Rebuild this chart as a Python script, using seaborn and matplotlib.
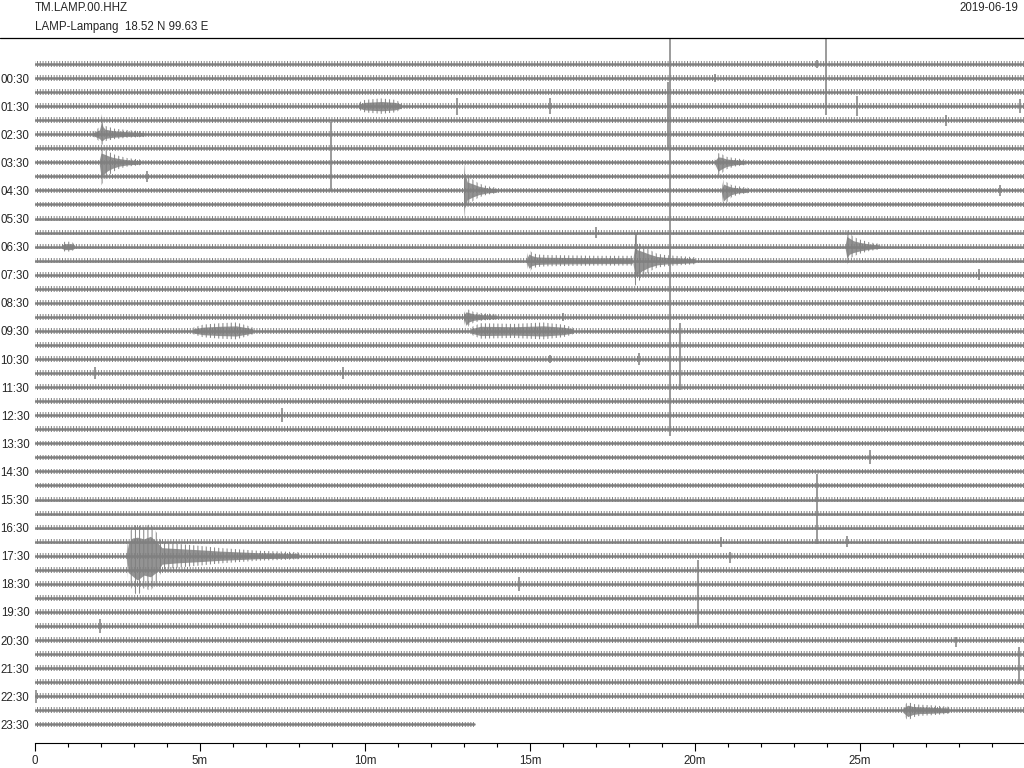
import numpy as np
import pandas as pd
import matplotlib
matplotlib.use("Agg")
import matplotlib.pyplot as plt
from matplotlib.lines import Line2D
import seaborn as sns

sns.set_style("white")
plt.rcParams["font.family"] = ["Liberation Sans", "DejaVu Sans"]
plt.rcParams["hatch.linewidth"] = 0.7
plt.rcParams["hatch.color"] = "#808080"

# header
station = "TM.LAMP.00.HHZ"
site = "LAMP-Lampang  18.52 N 99.63 E"
day = "2019-06-19"

# one trace per half hour, the last one stops early
n_traces = 48
last_trace_end = 13.3
hour_labels = ["00:30", "01:30", "02:30", "03:30", "04:30", "05:30", "06:30", "07:30",
               "08:30", "09:30", "10:30", "11:30", "12:30", "13:30", "14:30", "15:30",
               "16:30", "17:30", "18:30", "19:30", "20:30", "21:30", "22:30", "23:30"]
minute_ticks = [0, 5, 10, 15, 20, 25]
minute_labels = ["0", "5m", "10m", "15m", "20m", "25m"]

# wave trains: trace row, envelope times (min), reach above / below trace (trace spacings)
quake_rows = [5, 7, 9, 7, 9, 14, 14, 13, 18, 19, 19, 35, 46, 3, 13]
quake_times = [
    [1.75, 1.95, 2.02, 2.06, 2.12, 2.4, 2.8, 3.3],
    [1.95, 2.0, 2.08, 2.2, 2.35, 2.55, 2.8, 3.2],
    [12.98, 13.03, 13.1, 13.25, 13.45, 13.7, 14.0],
    [20.6, 20.7, 20.8, 20.95, 21.2, 21.5],
    [20.8, 20.87, 20.95, 21.1, 21.3, 21.6],
    [18.12, 18.18, 18.25, 18.4, 18.6, 18.85, 19.1, 19.4, 20.0],
    [14.9, 14.97, 15.05, 15.2, 15.5, 17.0, 18.1],
    [24.55, 24.6, 24.68, 24.8, 25.0, 25.3, 25.6],
    [13.0, 13.06, 13.15, 13.3, 13.6, 14.0],
    [4.8, 5.1, 5.6, 6.1, 6.4, 6.6],
    [13.2, 13.5, 14.5, 15.4, 16.0, 16.3],
    [2.78, 2.83, 2.95, 3.1, 3.3, 3.5, 3.7, 3.85, 4.3, 5.0, 5.6, 6.2, 6.8, 7.5, 8.0],
    [26.3, 26.45, 26.6, 26.8, 27.2, 27.7],
    [9.8, 10.0, 10.5, 10.9, 11.1],
    [0.8, 0.9, 1.1, 1.2],
]
quake_up = [
    [0.15, 0.5, 1.45, 0.9, 0.6, 0.4, 0.3, 0.2],
    [0.3, 1.1, 1.0, 0.8, 0.6, 0.45, 0.3, 0.2],
    [0.3, 2.0, 1.0, 0.8, 0.5, 0.3, 0.2],
    [0.2, 0.65, 0.6, 0.4, 0.3, 0.2],
    [0.2, 0.75, 0.6, 0.4, 0.3, 0.2],
    [0.3, 1.8, 1.3, 1.1, 0.8, 0.5, 0.4, 0.35, 0.25],
    [0.25, 0.8, 0.6, 0.45, 0.4, 0.35, 0.35],
    [0.2, 1.2, 1.0, 0.7, 0.5, 0.3, 0.2],
    [0.2, 0.6, 0.5, 0.35, 0.25, 0.2],
    [0.25, 0.45, 0.55, 0.6, 0.4, 0.25],
    [0.25, 0.55, 0.5, 0.6, 0.45, 0.25],
    [0.3, 1.5, 2.1, 2.2, 2.0, 2.3, 1.6, 0.95, 0.85, 0.7, 0.55, 0.45, 0.35, 0.3, 0.25],
    [0.25, 0.6, 0.45, 0.4, 0.35, 0.25],
    [0.25, 0.45, 0.55, 0.45, 0.25],
    [0.2, 0.35, 0.35, 0.2],
]
quake_down = [
    [0.15, 0.5, 0.8, 0.7, 0.5, 0.35, 0.25, 0.2],
    [0.3, 1.65, 1.4, 1.0, 0.7, 0.45, 0.3, 0.2],
    [0.3, 2.1, 1.1, 0.8, 0.5, 0.3, 0.2],
    [0.2, 1.05, 0.8, 0.5, 0.3, 0.2],
    [0.2, 1.25, 0.9, 0.5, 0.3, 0.2],
    [0.3, 1.8, 1.6, 1.2, 0.8, 0.5, 0.4, 0.35, 0.25],
    [0.25, 0.9, 0.6, 0.45, 0.4, 0.35, 0.35],
    [0.2, 1.3, 0.9, 0.7, 0.5, 0.3, 0.2],
    [0.2, 1.0, 0.6, 0.4, 0.25, 0.2],
    [0.25, 0.45, 0.55, 0.6, 0.4, 0.25],
    [0.25, 0.55, 0.5, 0.6, 0.45, 0.25],
    [0.3, 2.0, 2.4, 2.9, 2.3, 2.5, 1.9, 1.0, 0.85, 0.7, 0.55, 0.45, 0.35, 0.3, 0.25],
    [0.25, 0.75, 0.5, 0.4, 0.35, 0.25],
    [0.25, 0.45, 0.55, 0.45, 0.25],
    [0.2, 0.35, 0.35, 0.2],
]

# single spikes: trace row, minute, reach above / below trace (trace spacings)
spike_rows = [13, 5, 3, 6, 20, 34, 38, 43, 45, 34, 35, 34, 41, 28, 37, 40, 25, 22, 22,
              21, 21, 9, 4, 3, 3, 18, 13, 12, 15, 3, 3, 8, 1, 0]
spike_mins = [19.24, 19.17, 23.97, 8.97, 19.55, 23.7, 20.1, 29.82, 0.02, 20.8, 21.06, 24.6,
              27.9, 25.3, 14.67, 1.97, 7.48, 1.82, 9.33, 15.6, 18.3, 29.24, 27.6, 24.9,
              29.85, 16.0, 18.2, 17.0, 28.6, 12.8, 15.6, 3.4, 20.6, 23.7]
spike_up = [14.9, 3.7, 5.0, 1.85, 1.6, 4.85, 2.7, 1.5, 0.45, 0.35, 0.25, 0.4, 0.2, 0.5,
            0.5, 0.5, 0.5, 0.4, 0.4, 0.3, 0.4, 0.4, 0.4, 0.7, 0.5, 0.3, 1.0, 0.4, 0.4,
            0.6, 0.55, 0.4, 0.3, 0.3]
spike_down = [13.5, 1.0, 0.6, 3.0, 3.2, 0.2, 2.1, 1.1, 0.45, 0.4, 0.5, 0.4, 0.5, 0.5,
              0.5, 0.5, 0.5, 0.4, 0.4, 0.3, 0.4, 0.4, 0.4, 0.7, 0.5, 0.3, 0.5, 0.4, 0.4,
              0.6, 0.55, 0.4, 0.3, 0.3]

gray = "#808080"

fig = plt.figure(figsize=(10.24, 7.68), dpi=100)
ax = fig.add_axes([35 / 1024, 25 / 768, 990 / 1024, 705 / 768])

rows = np.arange(n_traces)
ends = np.where(rows == n_traces - 1, last_trace_end, 30.0)
traces = pd.DataFrame({
    "row": np.repeat(rows, 2),
    "minute": np.column_stack([np.zeros(n_traces), ends]).ravel(),
})
sns.lineplot(data=traces, x="minute", y="row", units="row", estimator=None,
             color=gray, lw=1.8, ax=ax, legend=False)

# background noise round every trace, drawn as fine vertical ticks
for k, end in zip(rows, ends):
    ax.fill_between([0, end], k - 0.2, k + 0.2, facecolor="none", edgecolor=gray,
                    hatch="||||||", lw=0)

# wave trains: solid core plus hatched swing
for r, t, up, dn in zip(quake_rows, quake_times, quake_up, quake_down):
    up = np.array(up)
    dn = np.array(dn)
    ax.fill_between(t, r - up, r + dn, facecolor="none", edgecolor=gray,
                    hatch="||||", lw=0)
    ax.fill_between(t, r - 0.6 * up, r + 0.6 * dn, color=gray, lw=0, alpha=0.85)

ax.vlines(spike_mins, np.array(spike_rows) - np.array(spike_up),
          np.array(spike_rows) + np.array(spike_down), color=gray, lw=1.1)

ax.set_xlim(0, 30)
ax.set_ylim(48.33, -1.85)
ax.set_xlabel("")
ax.set_ylabel("")
for side in ["left", "right", "top"]:
    ax.spines[side].set_visible(False)
ax.spines["bottom"].set_color("black")
ax.spines["bottom"].set_linewidth(0.8)

ax.set_xticks(minute_ticks, minute_labels)
ax.set_xticks(range(1, 30), minor=True)
ax.tick_params(axis="x", which="major", direction="out", length=6, width=0.8,
               color="black", labelsize=8.3, pad=3, bottom=True)
ax.tick_params(axis="x", which="minor", direction="out", length=3, width=0.8,
               color="black", bottom=True)
ax.set_yticks(range(1, n_traces, 2), hour_labels)
ax.tick_params(axis="y", length=0, labelsize=8.3, pad=4)

fig.add_artist(Line2D([0, 1], [1 - 38 / 768] * 2, transform=fig.transFigure,
                      color="black", lw=0.9))
fig.text(35 / 1024, 1 - 8 / 768, station, fontsize=8.3, va="center", ha="left")
fig.text(35 / 1024, 1 - 27 / 768, site, fontsize=8.3, va="center", ha="left")
fig.text(1018 / 1024, 1 - 8 / 768, day, fontsize=8.3, va="center", ha="right")

fig.savefig("out.png", dpi=100)
